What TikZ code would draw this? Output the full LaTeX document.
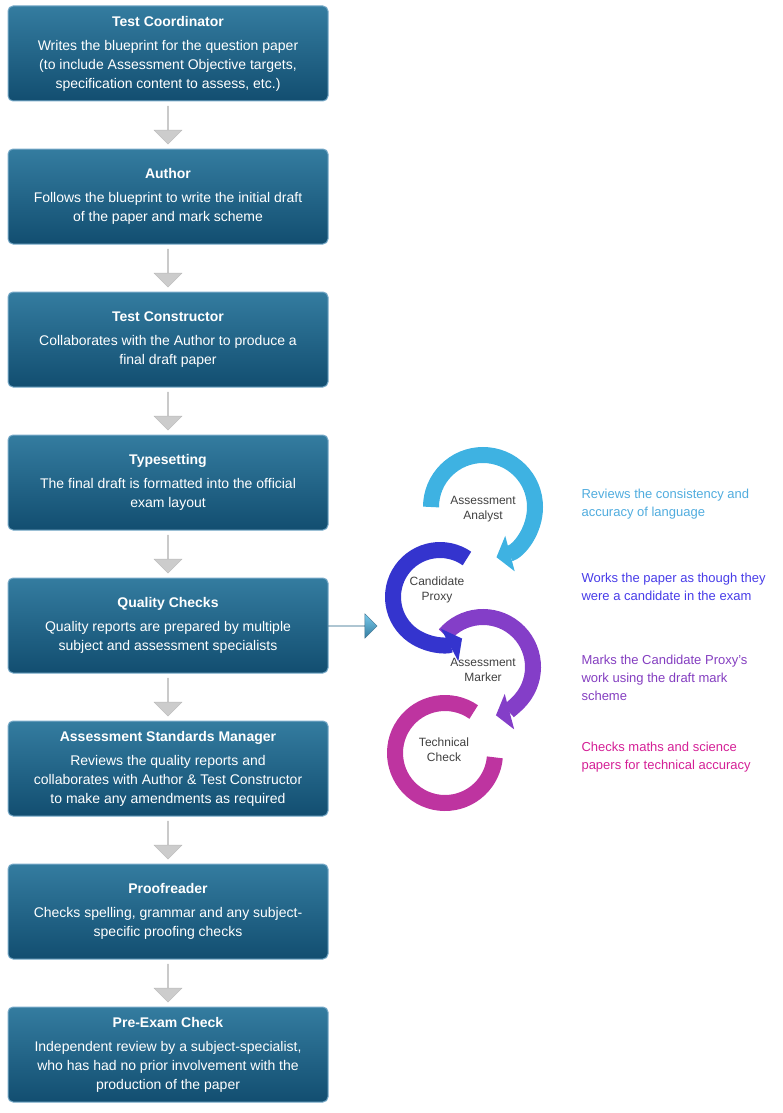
\documentclass[tikz,border=0pt]{standalone}
\usepackage{fontspec}
\setmainfont{Liberation Sans}
\usetikzlibrary{shapes.arrows,arrows.meta,positioning,calc}
\definecolor{boxtop}{RGB}{52,124,160}
\definecolor{boxbot}{RGB}{18,78,112}
\definecolor{boxline}{RGB}{120,170,200}
\definecolor{analyst}{RGB}{62,178,226}
\definecolor{proxy}{RGB}{52,52,206}
\definecolor{marker}{RGB}{132,62,200}
\definecolor{techcheck}{RGB}{190,52,160}
\definecolor{anatext}{RGB}{80,172,222}
\definecolor{proxtext}{RGB}{72,60,232}
\definecolor{marktext}{RGB}{132,62,192}
\definecolor{techtext}{RGB}{212,32,150}
\tikzset{
  stage/.style={rounded corners=5pt, draw=boxline, line width=1pt,
    top color=boxtop, bottom color=boxbot, text=white,
    minimum width=320pt, minimum height=95pt, align=center,
    font=\fontsize{14}{19}\selectfont},
  down/.style={single arrow, shape border rotate=270, draw=gray!55,
    fill=gray!40, minimum height=38pt, minimum width=28pt,
    single arrow head extend=8pt, inner sep=0pt},
  ring/.style={line width=16pt, line cap=butt},
  ringlabel/.style={text=black!75, align=center, font=\fontsize{12}{15}\selectfont},
  note/.style={anchor=west, align=left, font=\fontsize{13}{18}\selectfont}
}
\begin{document}
\begin{tikzpicture}[x=1pt, y=-1pt]
\useasboundingbox (0,0) rectangle (783,1113);

% main chain
\node[stage] (s1) at (168,53.5) {\textbf{Test Coordinator}\\[5pt]Writes the blueprint for the question paper\\(to include Assessment Objective targets,\\specification content to assess, etc.)};
\node[stage] (s2) at (168,196.5) {\textbf{Author}\\[5pt]Follows the blueprint to write the initial draft\\of the paper and mark scheme};
\node[stage] (s3) at (168,339.5) {\textbf{Test Constructor}\\[5pt]Collaborates with the Author to produce a\\final draft paper};
\node[stage] (s4) at (168,482.5) {\textbf{Typesetting}\\[5pt]The final draft is formatted into the official\\exam layout};
\node[stage] (s5) at (168,625.5) {\textbf{Quality Checks}\\[5pt]Quality reports are prepared by multiple\\subject and assessment specialists};
\node[stage] (s6) at (168,768.5) {\textbf{Assessment Standards Manager}\\[5pt]Reviews the quality reports and\\collaborates with Author \& Test Constructor\\to make any amendments as required};
\node[stage] (s7) at (168,911.5) {\textbf{Proofreader}\\[5pt]Checks spelling, grammar and any subject-\\specific proofing checks};
\node[stage] (s8) at (168,1054.5) {\textbf{Pre-Exam Check}\\[5pt]Independent review by a subject-specialist,\\who has had no prior involvement with the\\production of the paper};

\foreach \a/\b in {s1/s2,s2/s3,s3/s4,s4/s5,s5/s6,s6/s7,s7/s8}
  \node[down] (d\a) at ($(\a.south)!0.5!(\b.north)$) {};

% into the checks
\node[single arrow, draw=boxbot!80, top color=analyst!70, bottom color=boxtop,
  minimum height=50pt, minimum width=24pt, single arrow head extend=12pt,
  inner sep=0pt] (qa) at (352,626) {};

% rings
\coordinate (cana) at (483,507);
\coordinate (cpro) at (440,597);
\coordinate (cmar) at (483,667);
\coordinate (ctec) at (445,753);
\draw[ring, techcheck] ([shift={(-55:50)}]ctec) arc[start angle=-55, end angle=-355, radius=50];
\draw[ring, marker, -{Triangle[length=14pt,width=36pt]}] ([shift={(-140:50)}]cmar) arc[start angle=-140, end angle=75, radius=50];
\draw[ring, proxy, -{Triangle[length=14pt,width=36pt]}] ([shift={(-55:47)}]cpro) arc[start angle=-55, end angle=-298, radius=47];
\draw[ring, analyst, -{Triangle[length=14pt,width=36pt]}] ([shift={(-180:52)}]cana) arc[start angle=-180, end angle=75, radius=52];

\node[ringlabel] (lana) at (483,509) {Assessment\\Analyst};
\node[ringlabel] (lpro) at (437,590) {Candidate\\Proxy};
\node[ringlabel] (lmar) at (483,670) {Assessment\\Marker};
\node[ringlabel] (ltec) at (444,750) {Technical\\Check};

% notes
\node[note, text=anatext] (nana) at (578,504) {Reviews the consistency and\\accuracy of language};
\node[note, text=proxtext] (npro) at (578,587) {Works the paper as though they\\were a candidate in the exam};
\node[note, text=marktext] (nmar) at (578,678) {Marks the Candidate Proxy's\\work using the draft mark\\scheme};
\node[note, text=techtext] (ntec) at (578,757) {Checks maths and science\\papers for technical accuracy};
\end{tikzpicture}
\end{document}
